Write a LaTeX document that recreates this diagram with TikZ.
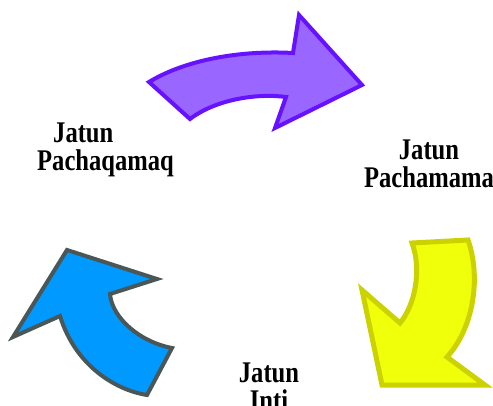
\documentclass[tikz,border=0pt]{standalone}
\usepackage{fontspec}
\setmainfont{Liberation Serif}
\newfontfamily\lblfont{Liberation Serif}[FakeStretch=0.82]
\begin{document}
\begin{tikzpicture}[x=1pt,y=-1pt,line join=miter,
    cyclearrow/.style={line width=4pt},
    lbl/.style={font=\lblfont\bfseries\fontsize{30}{28}\selectfont,inner sep=0pt,anchor=north}]
    \useasboundingbox (0,0) rectangle (493,406);
    \definecolor{purplefill}{HTML}{9966FF}
    \definecolor{purpleline}{HTML}{6611FF}
    \definecolor{yellowfill}{HTML}{F0FF0A}
    \definecolor{yellowline}{HTML}{CCD200}
    \definecolor{bluefill}{HTML}{0099FF}
    \definecolor{blueline}{HTML}{4B5757}

    % top arrow
    \draw[cyclearrow,draw=purpleline,fill=purplefill] (149,82) .. controls (185,60) and (240,50) .. (293,53)
        -- (299,15) -- (362,85) -- (275,128) -- (286,97)
        .. controls (255,93) and (215,100) .. (190,119) -- cycle;
    % right arrow
    \draw[cyclearrow,line width=5pt,draw=yellowline,fill=yellowfill] (412,243) -- (468,240)
        .. controls (482,280) and (472,330) .. (447,357)
        -- (485,385) -- (382,385) -- (362,290) -- (400,323)
        .. controls (415,305) and (422,270) .. (412,243) -- cycle;
    % left arrow
    \draw[cyclearrow,draw=blueline,fill=bluefill] (67,250) -- (157,279) -- (110,294)
        .. controls (112,318) and (140,342) .. (172,348)
        -- (147,395) .. controls (115,390) and (75,365) .. (60,316)
        -- (13,337) -- cycle;

    \node[lbl,align=left,anchor=north west] (pachaqamaq) at (37,123) {\hspace*{16pt}Jatun\\Pachaqamaq};
    \node[lbl,align=center] (pachamama) at (429,140) {Jatun\\Pachamama};
    \node[lbl,align=center] (inti) at (269,363) {Jatun\\Inti};
\end{tikzpicture}
\end{document}
